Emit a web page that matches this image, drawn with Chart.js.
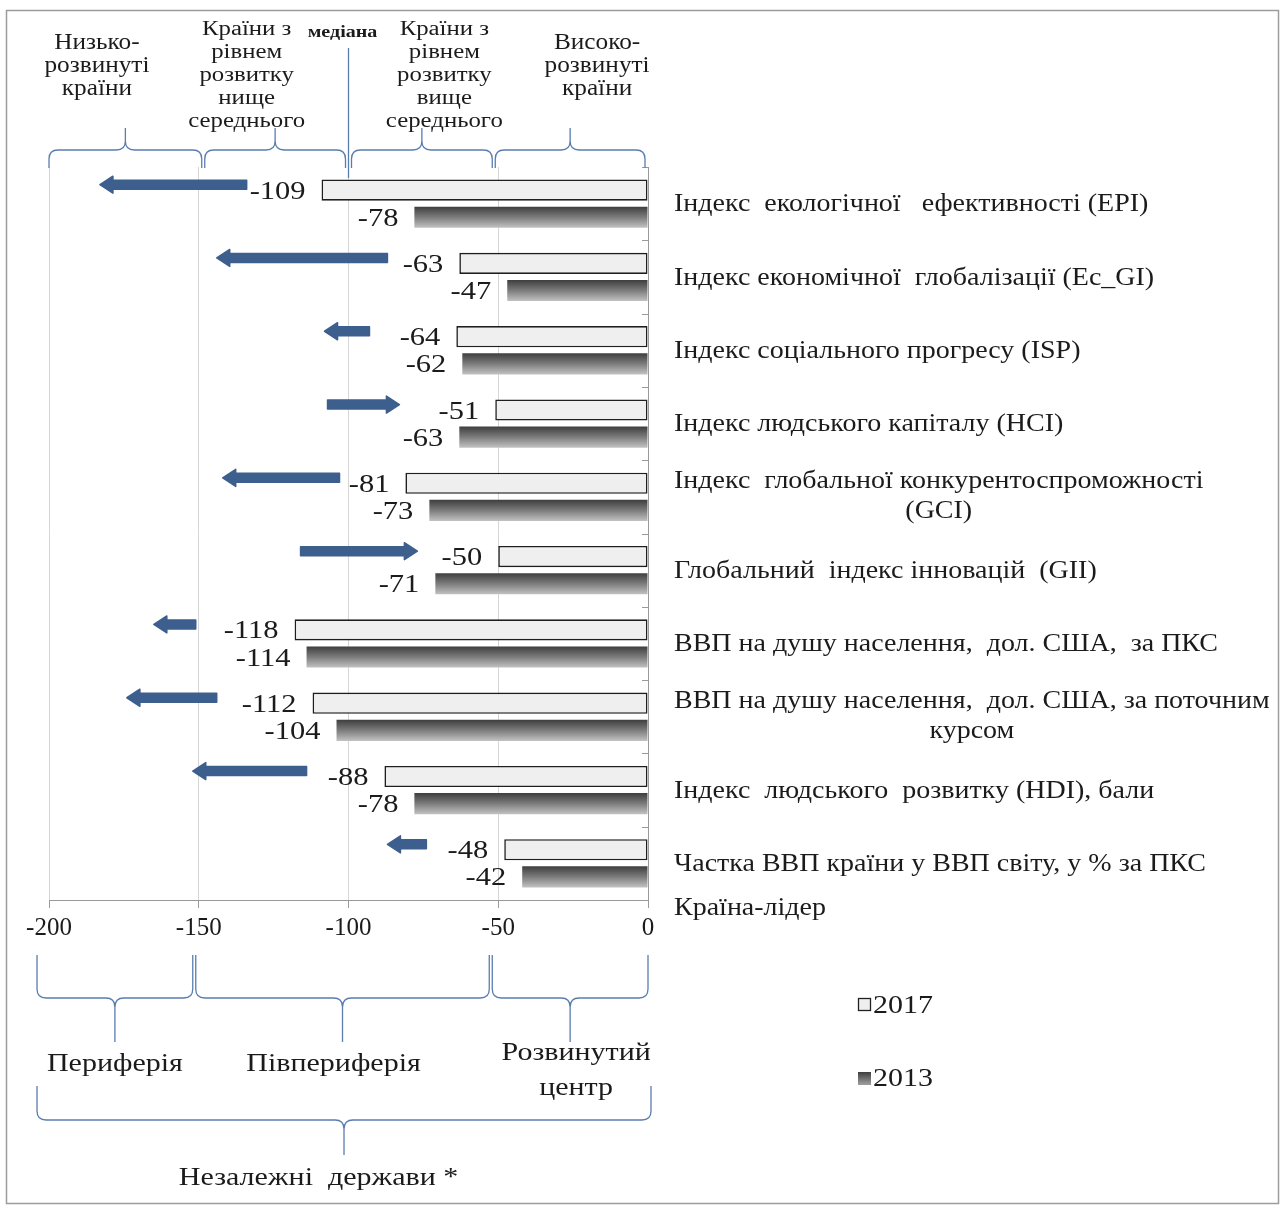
<!DOCTYPE html>
<html lang="uk">
<head>
<meta charset="utf-8">
<title>Позиції країни за індексами, 2013 і 2017</title>
<script src="https://cdn.jsdelivr.net/npm/chart.js@4.4.1/dist/chart.umd.min.js"></script>
<style>
  html, body { margin: 0; padding: 0; background: #fff; }
  #wrap { position: relative; width: 1282px; height: 1206px; }
</style>
</head>
<body>
<div id="wrap"><canvas id="rank-chart"></canvas></div>
<script>
// indicators, top to bottom
const indicators = [
    'Індекс  екологічної   ефективності (EPI)',
    'Індекс економічної  глобалізації (Ec_GI)',
    'Індекс соціального прогресу (ISP)',
    'Індекс людського капіталу (HCI)',
    ['Індекс  глобальної конкурентоспроможності', '(GCI)'],
    'Глобальний  індекс інновацій  (GII)',
    'ВВП на душу населення,  дол. США,  за ПКС',
    ['ВВП на душу населення,  дол. США, за поточним', 'курсом'],
    'Індекс  людського  розвитку (HDI), бали',
    'Частка ВВП країни у ВВП світу, у % за ПКС'
];
const rank2017 = [-109, -63, -64, -51, -81, -50, -118, -112, -88, -48];
const rank2013 = [-78, -47, -62, -63, -73, -71, -114, -104, -78, -42];
// blue arrows: where the shift starts and where it points to
const arrowFrom = [-134, -87, -93, -107, -103, -116, -151, -144, -114, -74];
const arrowTo = [-183, -144, -108, -83, -142, -77, -165, -174, -152, -87];
const xTicks = [-200, -150, -100, -50, 0];
const seriesNames = ['2017', '2013'];
const leaderLabel = 'Країна-лідер';

// groups of countries above the plot (bounds in rank units)
const levelNames = [
    ['Низько-', 'розвинуті', 'країни'],
    ['Країни з', 'рівнем', 'розвитку', 'нище', 'середнього'],
    ['Країни з', 'рівнем', 'розвитку', 'вище', 'середнього'],
    ['Високо-', 'розвинуті', 'країни']
];
const levelBounds = [[-200, -149], [-148, -101], [-99, -52], [-51, -1]];
const medianRank = -100;
const zoneNames = [['Периферія'], ['Півпериферія'], ['Розвинутий', 'центр']];
const zoneBounds = [[-204, -152], [-151, -53], [-52, 0]];
const allNames = ['Незалежні  держави *'];
const allBounds = [-204, 1];

const SERIF = '"Liberation Serif", "Times New Roman", serif';
const CAT_PCT = 0.74;
const BAR_PCT = 0.78;

// text is a bit wide in the original, so stretch it horizontally
function say(c, text, x, y, size, align, stretch, weight) {
    c.save();
    c.font = (weight || 'normal') + ' ' + size + 'px ' + SERIF;
    c.textAlign = align || 'left';
    c.textBaseline = 'middle';
    c.fillStyle = '#1b1b1b';
    c.translate(x, y);
    c.scale(stretch || 1.2, 1);
    c.fillText(text, 0, 0);
    c.restore();
}

function textWidth(c, text, size, stretch) {
    c.save();
    c.font = size + 'px ' + SERIF;
    const w = c.measureText(text).width * stretch;
    c.restore();
    return w;
}

// curly brace: free ends at yEnd, long side at yBar, spike at yTip
function brace(c, x1, x2, yEnd, yBar, yTip) {
    const xm = (x1 + x2) / 2;
    const r = 9;
    const s = Math.sign(yTip - yBar);
    c.beginPath();
    c.moveTo(x1, yEnd);
    c.lineTo(x1, yBar - s * r);
    c.quadraticCurveTo(x1, yBar, x1 + r, yBar);
    c.lineTo(xm - r, yBar);
    c.quadraticCurveTo(xm, yBar, xm, yBar + s * r);
    c.lineTo(xm, yTip);
    c.moveTo(xm, yBar + s * r);
    c.quadraticCurveTo(xm, yBar, xm + r, yBar);
    c.lineTo(x2 - r, yBar);
    c.quadraticCurveTo(x2, yBar, x2, yBar - s * r);
    c.lineTo(x2, yEnd);
    c.stroke();
}

function arrow(c, x0, x1, y) {
    const dir = Math.sign(x1 - x0);
    const neck = x1 - dir * 13;
    c.beginPath();
    c.moveTo(x0, y - 4.5);
    c.lineTo(neck, y - 4.5);
    c.lineTo(neck, y - 8.5);
    c.lineTo(x1, y);
    c.lineTo(neck, y + 8.5);
    c.lineTo(neck, y + 4.5);
    c.lineTo(x0, y + 4.5);
    c.closePath();
    c.fill();
    c.stroke();
}

// gradient fill of the 2013 bars, dark on top
function shade(context) {
    const chart = context.chart;
    const ys = chart.scales.y;
    if (!ys || context.dataIndex === undefined) return '#6e6e6e';
    const band = ys.height / indicators.length;
    const slot = band * CAT_PCT / 2;
    const mid = ys.getPixelForValue(context.dataIndex);
    const top = mid + slot * (1 - BAR_PCT) / 2;
    if (!isFinite(top) || !isFinite(slot) || slot <= 0) return '#6e6e6e';
    const g = chart.ctx.createLinearGradient(0, top, 0, top + slot * BAR_PCT);
    g.addColorStop(0, '#3e3e3e');
    g.addColorStop(0.5, '#7c7c7c');
    g.addColorStop(1, '#c2c2c2');
    return g;
}

const annotations = {
    id: 'annotations',
    beforeDraw(chart) {
        const c = chart.ctx;
        c.save();
        c.fillStyle = '#fff';
        c.fillRect(0, 0, chart.width, chart.height);
        c.restore();
    },
    afterDraw(chart) {
        const c = chart.ctx;
        const xs = chart.scales.x, ys = chart.scales.y;
        const area = chart.chartArea;
        const band = ys.height / indicators.length;
        const px = v => xs.getPixelForValue(v);

        // inward ticks of the category axis
        c.save();
        c.strokeStyle = '#9a9a9a';
        c.lineWidth = 1;
        for (let i = 0; i <= indicators.length; i++) {
            const y = Math.round(area.top + i * band) + 0.5;
            c.beginPath(); c.moveTo(area.right - 6, y); c.lineTo(area.right, y); c.stroke();
        }
        c.restore();

        // value labels left of each bar
        [0, 1].forEach(d => {
            chart.getDatasetMeta(d).data.forEach((el, i) => {
                const v = chart.data.datasets[d].data[i];
                say(c, String(v), el.x - 16, el.y + 2, 25, 'right', 1.22);
            });
        });

        // arrows
        c.save();
        c.fillStyle = '#3d5f8e';
        c.strokeStyle = '#3d5f8e';
        c.lineWidth = 1.5;
        c.lineJoin = 'round';
        arrowFrom.forEach((v, i) => {
            const y = ys.getPixelForValue(i) - 19;
            arrow(c, px(v), px(arrowTo[i]), y);
        });
        c.restore();

        // category labels to the right
        const lx = area.right + 26;
        const catStretch = 1.12;
        indicators.forEach((lab, i) => {
            const yc = ys.getPixelForValue(i);
            if (Array.isArray(lab)) {
                const w = textWidth(c, lab[0], 25, catStretch);
                say(c, lab[0], lx, yc - 15, 25, 'left', catStretch);
                say(c, lab[1], lx + w / 2, yc + 15, 25, 'center', catStretch);
            } else {
                say(c, lab, lx, yc + 1, 25, 'left', catStretch);
            }
        });
        say(c, leaderLabel, lx, area.bottom + 8, 25, 'left', catStretch);

        // braces and group names above the plot
        c.save();
        c.strokeStyle = '#5a7db0';
        c.lineWidth = 1.3;
        levelBounds.forEach(b => brace(c, px(b[0]), px(b[1]), area.top + 1, 150, 128));
        c.beginPath();
        c.moveTo(px(medianRank), 48);
        c.lineTo(px(medianRank), area.top + 11);
        c.stroke();
        c.restore();
        const levelAt = [-184, -134, -68, -17];
        levelNames.forEach((lines, k) => {
            const big = lines.length === 3;
            lines.forEach((t, j) => {
                if (big) say(c, t, px(levelAt[k]), 43 + j * 23, 23, 'center', 1.1);
                else say(c, t, px(levelAt[k]), 30 + j * 23, 20, 'center', 1.24);
            });
        });
        say(c, 'медіана', px(-102), 33, 17, 'center', 1.18, 'bold');

        // braces and zone names below the axis
        c.save();
        c.strokeStyle = '#5a7db0';
        c.lineWidth = 1.3;
        zoneBounds.forEach(b => brace(c, px(b[0]), px(b[1]), 955, 998, 1042));
        brace(c, px(allBounds[0]), px(allBounds[1]), 1086, 1120, 1155);
        c.restore();
        const zoneAt = [-178, -105, -24];
        zoneNames.forEach((lines, k) => {
            const y0 = lines.length > 1 ? 1053 : 1064;
            lines.forEach((t, j) => say(c, t, px(zoneAt[k]), y0 + j * 35, 25, 'center'));
        });
        say(c, allNames[0], px(-110), 1178, 25, 'center');

        // legend
        const legendY = [1005, 1078];
        seriesNames.forEach((name, d) => {
            const y = legendY[d];
            c.save();
            if (d === 0) {
                c.fillStyle = '#efefef';
                c.fillRect(858.5, y - 6.5, 12, 12);
                c.strokeStyle = '#222';
                c.lineWidth = 1.3;
                c.strokeRect(858.5, y - 6.5, 12, 12);
            } else {
                const g = c.createLinearGradient(0, y - 6, 0, y + 6);
                g.addColorStop(0, '#3e3e3e');
                g.addColorStop(1, '#9a9a9a');
                c.fillStyle = g;
                c.fillRect(858, y - 6, 13, 13);
            }
            c.restore();
            say(c, name, 873, y + 1, 25, 'left');
        });

        // frame
        c.save();
        c.strokeStyle = '#9c9c9c';
        c.lineWidth = 1.5;
        c.strokeRect(6.5, 10.5, 1272, 1193);
        c.restore();
    }
};

new Chart(document.getElementById('rank-chart').getContext('2d'), {
    type: 'bar',
    data: {
        labels: indicators,
        datasets: [{
            label: seriesNames[0],
            data: rank2017,
            backgroundColor: '#efefef',
            borderColor: '#1e1e1e',
            borderWidth: 1.6,
            borderSkipped: false
        }, {
            label: seriesNames[1],
            data: rank2013,
            backgroundColor: shade,
            borderWidth: 0
        }]
    },
    options: {
        indexAxis: 'y',
        responsive: true,
        maintainAspectRatio: false,
        animation: false,
        devicePixelRatio: 1,
        datasets: { bar: { categoryPercentage: CAT_PCT, barPercentage: BAR_PCT } },
        layout: { padding: { left: 49, top: 167, right: 0, bottom: 0 } },
        plugins: { legend: { display: false }, tooltip: { enabled: false } },
        scales: {
            x: {
                min: xTicks[0],
                max: xTicks[xTicks.length - 1],
                afterBuildTicks: s => { s.ticks = xTicks.map(v => ({ value: v })); },
                afterFit: s => { s.height = 306; },
                grid: { color: '#d6d6d6', tickColor: '#9a9a9a', tickLength: 8 },
                border: { color: '#9a9a9a' },
                ticks: {
                    color: '#1b1b1b',
                    padding: 5,
                    maxRotation: 0,
                    font: { family: SERIF, size: 25 },
                    callback: v => String(v)
                }
            },
            y: {
                position: 'right',
                afterFit: s => { s.width = 634; },
                grid: { display: false },
                border: { color: '#9a9a9a' },
                ticks: { display: false }
            }
        }
    },
    plugins: [annotations]
});
</script>
</body>
</html>
